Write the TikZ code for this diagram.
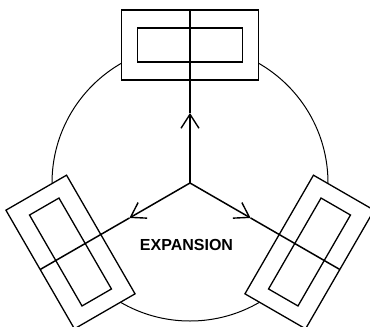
\documentclass[tikz,border=0pt]{standalone}
\usepackage{fontspec}
\setmainfont{Liberation Sans}
\usetikzlibrary{arrows.meta}
\begin{document}
\begin{tikzpicture}[x=1pt,y=-1pt,
  ring/.style={line width=1pt},
  box/.style={line width=1.3pt,fill=white},
  spoke/.style={line width=1.5pt},
  spokearrow/.style={line width=1.5pt,-{Straight Barb[length=14pt,width=18pt,line width=1.4pt]}},
  label/.style={font=\bfseries\fontsize{16}{18}\selectfont,inner sep=0pt}]
\useasboundingbox (0,0) rectangle (370,327);
\coordinate (C) at (190,183);
\draw[ring] (C) circle (138);
\foreach \r in {0,120,240}{
  \begin{scope}[shift={(C)},rotate=\r]
    \draw[box] (-68.5,-173) rectangle (68.5,-103);
    \draw[box] (-52.5,-155) rectangle (52.5,-121);
    \coordinate (m\r) at (0,-70);
    \coordinate (e\r) at (0,-173);
  \end{scope}
  \draw[spokearrow] (C) -- (m\r);
  \draw[spoke] (m\r) -- (e\r);
}
\node[label] (t) at (186.5,244.5) {EXPANSION};
\end{tikzpicture}
\end{document}
